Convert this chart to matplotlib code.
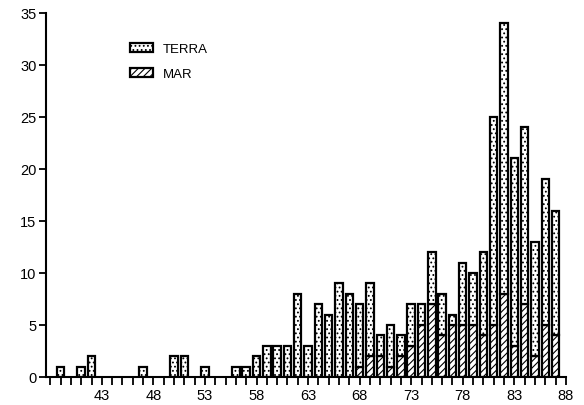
import numpy as np
import matplotlib.pyplot as plt
from matplotlib.patches import Patch

plt.rcParams['font.family'] = ['Liberation Sans', 'DejaVu Sans']
plt.rcParams['hatch.linewidth'] = 0.8

years = list(range(39, 88))
terra = [1, 0, 1, 2, 0, 0, 0, 0, 1, 0, 0, 2, 2, 0, 1, 0, 0, 1, 1, 2,
         3, 3, 3, 8, 3, 7, 6, 9, 8, 6, 7, 2, 4, 2, 4, 2, 5, 4, 1, 6,
         5, 8, 20, 26, 18, 17, 11, 14, 12]
mar = [0, 0, 0, 0, 0, 0, 0, 0, 0, 0, 0, 0, 0, 0, 0, 0, 0, 0, 0, 0,
       0, 0, 0, 0, 0, 0, 0, 0, 0, 1, 2, 2, 1, 2, 3, 5, 7, 4, 5, 5,
       5, 4, 5, 8, 3, 7, 2, 5, 4]
xticks = [43, 48, 53, 58, 63, 68, 73, 78, 83, 88]
yticks = [0, 5, 10, 15, 20, 25, 30, 35]

x = np.array(years)
t = np.array(terra)
m = np.array(mar)

fig = plt.figure(figsize=(5.84, 4.06), dpi=100)
ax = fig.add_axes([0.079, 0.069, 0.890, 0.897])

w = 0.72
mm = m > 0
ax.bar(x[mm], m[mm], width=w, color='white', edgecolor='black',
       linewidth=1.6, hatch='/////')
tm = t > 0
ax.bar(x[tm], t[tm], width=w, bottom=m[tm], color='white',
       edgecolor='black', linewidth=1.6, hatch='....')

ax.set_xlim(37.6, 88)
ax.set_ylim(0, 35)
ax.set_xticks(range(38, 89))
ax.set_xticklabels([str(v) if v in xticks else '' for v in range(38, 89)])
ax.set_yticks(yticks)
ax.spines['top'].set_visible(False)
ax.spines['right'].set_visible(False)
ax.spines['left'].set_linewidth(1.5)
ax.spines['bottom'].set_linewidth(1.5)
ax.tick_params(axis='x', direction='out', length=6, width=1.3, labelsize=10.5, pad=2)
ax.tick_params(axis='y', direction='out', length=5, width=1.3, labelsize=10.5, pad=2)

handles = [Patch(facecolor='white', edgecolor='black', hatch='....', linewidth=1.6, label='TERRA'),
           Patch(facecolor='white', edgecolor='black', hatch='/////', linewidth=1.6, label='MAR')]
ax.legend(handles=handles, loc='upper left', bbox_to_anchor=(0.138, 0.95),
          frameon=False, fontsize=9.5, handlelength=1.75, handleheight=0.65,
          labelspacing=1.0, handletextpad=0.75)

fig.savefig('out.png', dpi=100)
